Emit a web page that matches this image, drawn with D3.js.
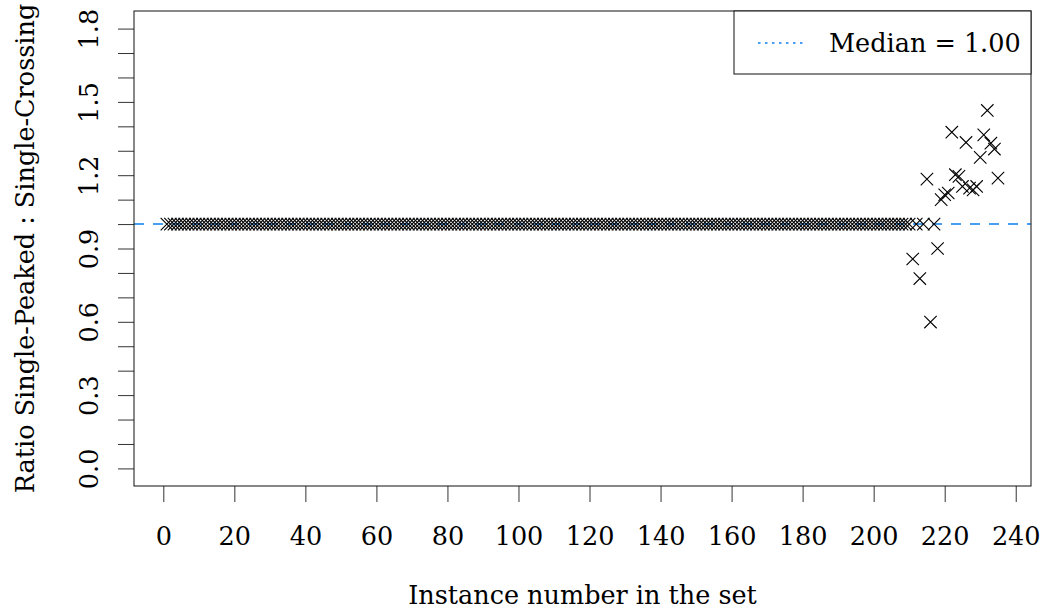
<!DOCTYPE html>
<html>
<head>
<meta charset="utf-8">
<script src="https://cdn.jsdelivr.net/npm/d3@7"></script>
<style>
  body { margin: 0; background: #fff; }
  svg text { font-family: "DejaVu Serif", serif; fill: #000; }
</style>
</head>
<body>
<svg id="chart" width="1048" height="615"></svg>
<script>
// Data: instance number and ratio single-peaked : single-crossing
const instances = d3.range(1, 236);
const ratios = [
  1,1,1,1,1,1,1,1,1,1,1,1,1,1,1,1,1,1,1,1,
  1,1,1,1,1,1,1,1,1,1,1,1,1,1,1,1,1,1,1,1,
  1,1,1,1,1,1,1,1,1,1,1,1,1,1,1,1,1,1,1,1,
  1,1,1,1,1,1,1,1,1,1,1,1,1,1,1,1,1,1,1,1,
  1,1,1,1,1,1,1,1,1,1,1,1,1,1,1,1,1,1,1,1,
  1,1,1,1,1,1,1,1,1,1,1,1,1,1,1,1,1,1,1,1,
  1,1,1,1,1,1,1,1,1,1,1,1,1,1,1,1,1,1,1,1,
  1,1,1,1,1,1,1,1,1,1,1,1,1,1,1,1,1,1,1,1,
  1,1,1,1,1,1,1,1,1,1,1,1,1,1,1,1,1,1,1,1,
  1,1,1,1,1,1,1,1,1,1,1,1,1,1,1,1,1,1,1,1,
  1,1,1,1,1,1,1,1,1,1,            // 201-210
  0.857, 1, 0.777, 1, 1.184, 0.599, 1, 0.90, 1.10, 1.12,   // 211-220
  1.127, 1.376, 1.202, 1.195, 1.154, 1.334, 1.147, 1.14, 1.154, 1.273, // 221-230
  1.365, 1.465, 1.331, 1.307, 1.188  // 231-235
];
const medianValue = 1.00;
const xTicks = [0, 20, 40, 60, 80, 100, 120, 140, 160, 180, 200, 220, 240];
const yTicks = d3.range(0, 19).map(d => d / 10);
const yLabels = [0, 0.3, 0.6, 0.9, 1.2, 1.5, 1.8];

// Layout
const plot = {left: 134, right: 1031, top: 11, bottom: 486};
const fontSize = "25.5px";
const blue = "#0a80ec";
const svg = d3.select("#chart");

const x = d3.scaleLinear().domain([-8.25, 244.3]).range([plot.left, plot.right]);
const y = d3.scaleLinear().domain([-0.072, 1.872]).range([plot.bottom, plot.top]);

////////// Median line //////////
svg.append("line")
    .attr("x1", plot.left).attr("x2", plot.right)
    .attr("y1", y(medianValue)).attr("y2", y(medianValue))
    .attr("stroke", blue)
    .attr("stroke-width", 1.4)
    .attr("stroke-dasharray", "10,9");

////////// Points (pch = 4) //////////
const pts = instances.map((d, i) => ({x: d, y: ratios[i]}));
const r = 6.2;
svg.append("g")
  .selectAll("path")
  .data(pts)
  .join("path")
    .attr("transform", d => `translate(${x(d.x)},${y(d.y)})`)
    .attr("d", `M${-r},${-r}L${r},${r}M${-r},${r}L${r},${-r}`)
    .attr("fill", "none")
    .attr("stroke", "#000")
    .attr("stroke-width", 1.1);

////////// Axes //////////
const xAxis = svg.append("g")
    .attr("transform", `translate(0,${plot.bottom})`)
    .call(d3.axisBottom(x).tickValues(xTicks).tickSize(16).tickSizeOuter(0).tickFormat(d3.format("d")));
xAxis.select(".domain").remove();
xAxis.selectAll(".tick line").attr("stroke", "#333");
xAxis.selectAll(".tick text")
    .attr("y", 0).attr("dy", 0)
    .attr("transform", "translate(0,59)")
    .style("font-size", fontSize);

const yAxis = svg.append("g")
    .attr("transform", `translate(${plot.left},0)`)
    .call(d3.axisLeft(y).tickValues(yTicks).tickSize(16).tickSizeOuter(0)
        .tickFormat(d => yLabels.some(v => Math.abs(v - d) < 1e-9) ? d3.format(".1f")(d) : ""));
yAxis.select(".domain").remove();
yAxis.selectAll(".tick line").attr("stroke", "#333");
yAxis.selectAll(".tick text")
    .attr("x", 0).attr("dy", 0)
    .attr("text-anchor", "middle")
    .attr("transform", "translate(-36,0) rotate(-90)")
    .style("font-size", fontSize);

// Box
svg.append("rect")
    .attr("x", plot.left).attr("y", plot.top)
    .attr("width", plot.right - plot.left).attr("height", plot.bottom - plot.top)
    .attr("fill", "none").attr("stroke", "#111").attr("stroke-width", 1);

////////// Titles //////////
svg.append("text")
    .attr("x", (plot.left + plot.right) / 2)
    .attr("y", 604)
    .attr("text-anchor", "middle")
    .style("font-size", fontSize)
    .text("Instance number in the set");

svg.append("text")
    .attr("transform", `translate(34,${(plot.top + plot.bottom) / 2}) rotate(-90)`)
    .attr("text-anchor", "middle")
    .style("font-size", fontSize)
    .text("Ratio Single-Peaked : Single-Crossing");

////////// Legend //////////
const legend = svg.append("g");
legend.append("rect")
    .attr("x", 734).attr("y", plot.top)
    .attr("width", plot.right - 734).attr("height", 63)
    .attr("fill", "#fff").attr("stroke", "#111").attr("stroke-width", 1);
legend.append("line")
    .attr("x1", 758).attr("x2", 806).attr("y1", 43).attr("y2", 43)
    .attr("stroke", blue).attr("stroke-width", 1.3)
    .attr("stroke-dasharray", "2.5,4.5");
legend.append("text")
    .attr("x", 829).attr("y", 52)
    .style("font-size", fontSize)
    .text(`Median = ${medianValue.toFixed(2)}`);
</script>
</body>
</html>
